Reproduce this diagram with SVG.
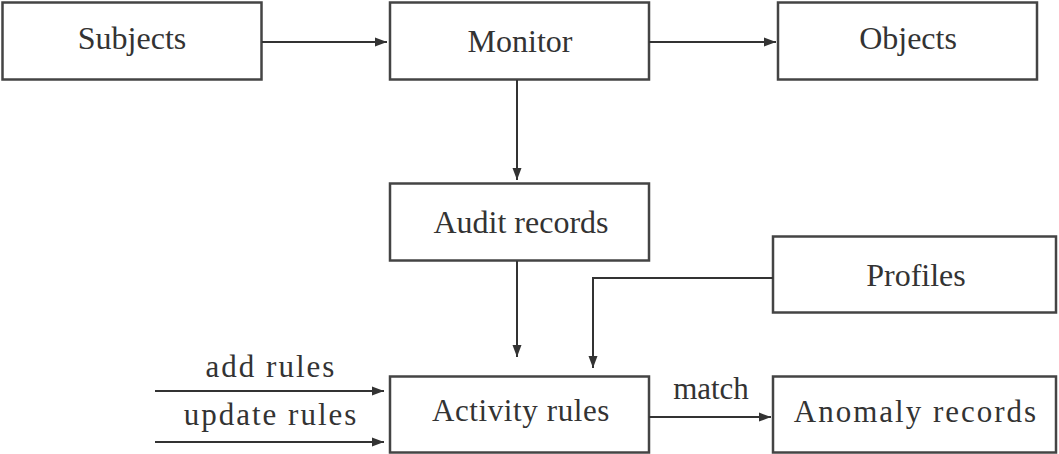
<svg xmlns="http://www.w3.org/2000/svg" width="1059" height="454" viewBox="0 0 1059 454">
<defs>
<marker id="ah" markerUnits="userSpaceOnUse" markerWidth="13" markerHeight="11" refX="12" refY="5.5" orient="auto">
<path d="M0,1 L12,5.5 L0,10 Z" fill="#333"/>
</marker>
<style>
.box{fill:#fff;stroke:#444;stroke-width:2.5}
.t{font-family:"Liberation Serif","Times New Roman",serif;font-size:32px;fill:#333;text-anchor:middle}
.s{font-size:31px;letter-spacing:2px}
.c{stroke:#333;stroke-width:2;fill:none;marker-end:url(#ah)}
</style>
</defs>
<rect width="1059" height="454" fill="#fff"/>
<g id="subjects"><rect class="box" x="2.5" y="2.5" width="259" height="77"/><text class="t" x="132" y="49">Subjects</text></g>
<g id="monitor"><rect class="box" x="390" y="2.5" width="259" height="77"/><text class="t" x="520" y="52">Monitor</text></g>
<g id="objects"><rect class="box" x="778" y="2.5" width="259" height="77"/><text class="t" x="908" y="49">Objects</text></g>
<g id="audit"><rect class="box" x="390" y="183.5" width="259" height="77"/><text class="t" x="521" y="233">Audit records</text></g>
<g id="profiles"><rect class="box" x="773" y="236.5" width="283" height="76"/><text class="t" x="916" y="286">Profiles</text></g>
<g id="activity"><rect class="box" x="390" y="376.5" width="259" height="76"/><text class="t" x="521" y="421" style="font-size:31px;letter-spacing:0.6px">Activity rules</text></g>
<g id="anomaly"><rect class="box" x="773" y="376.5" width="283" height="76"/><text class="t s" x="916" y="422">Anomaly records</text></g>
<g id="connectors">
<line class="c" x1="262" y1="42" x2="387" y2="42"/>
<line class="c" x1="649" y1="42" x2="776" y2="42"/>
<line class="c" x1="517" y1="80" x2="517" y2="180"/>
<line class="c" x1="517" y1="261" x2="517" y2="357"/>
<path class="c" d="M773,278 H593 V368"/>
<line class="c" x1="155" y1="391" x2="384" y2="391"/>
<line class="c" x1="155" y1="442" x2="384" y2="442"/>
<line class="c" x1="649" y1="417" x2="771" y2="417"/>
<text class="t s" x="271" y="377">add rules</text>
<text class="t s" x="271" y="425">update rules</text>
<text class="t" x="711" y="399" style="font-size:31px">match</text>
</g>
</svg>
